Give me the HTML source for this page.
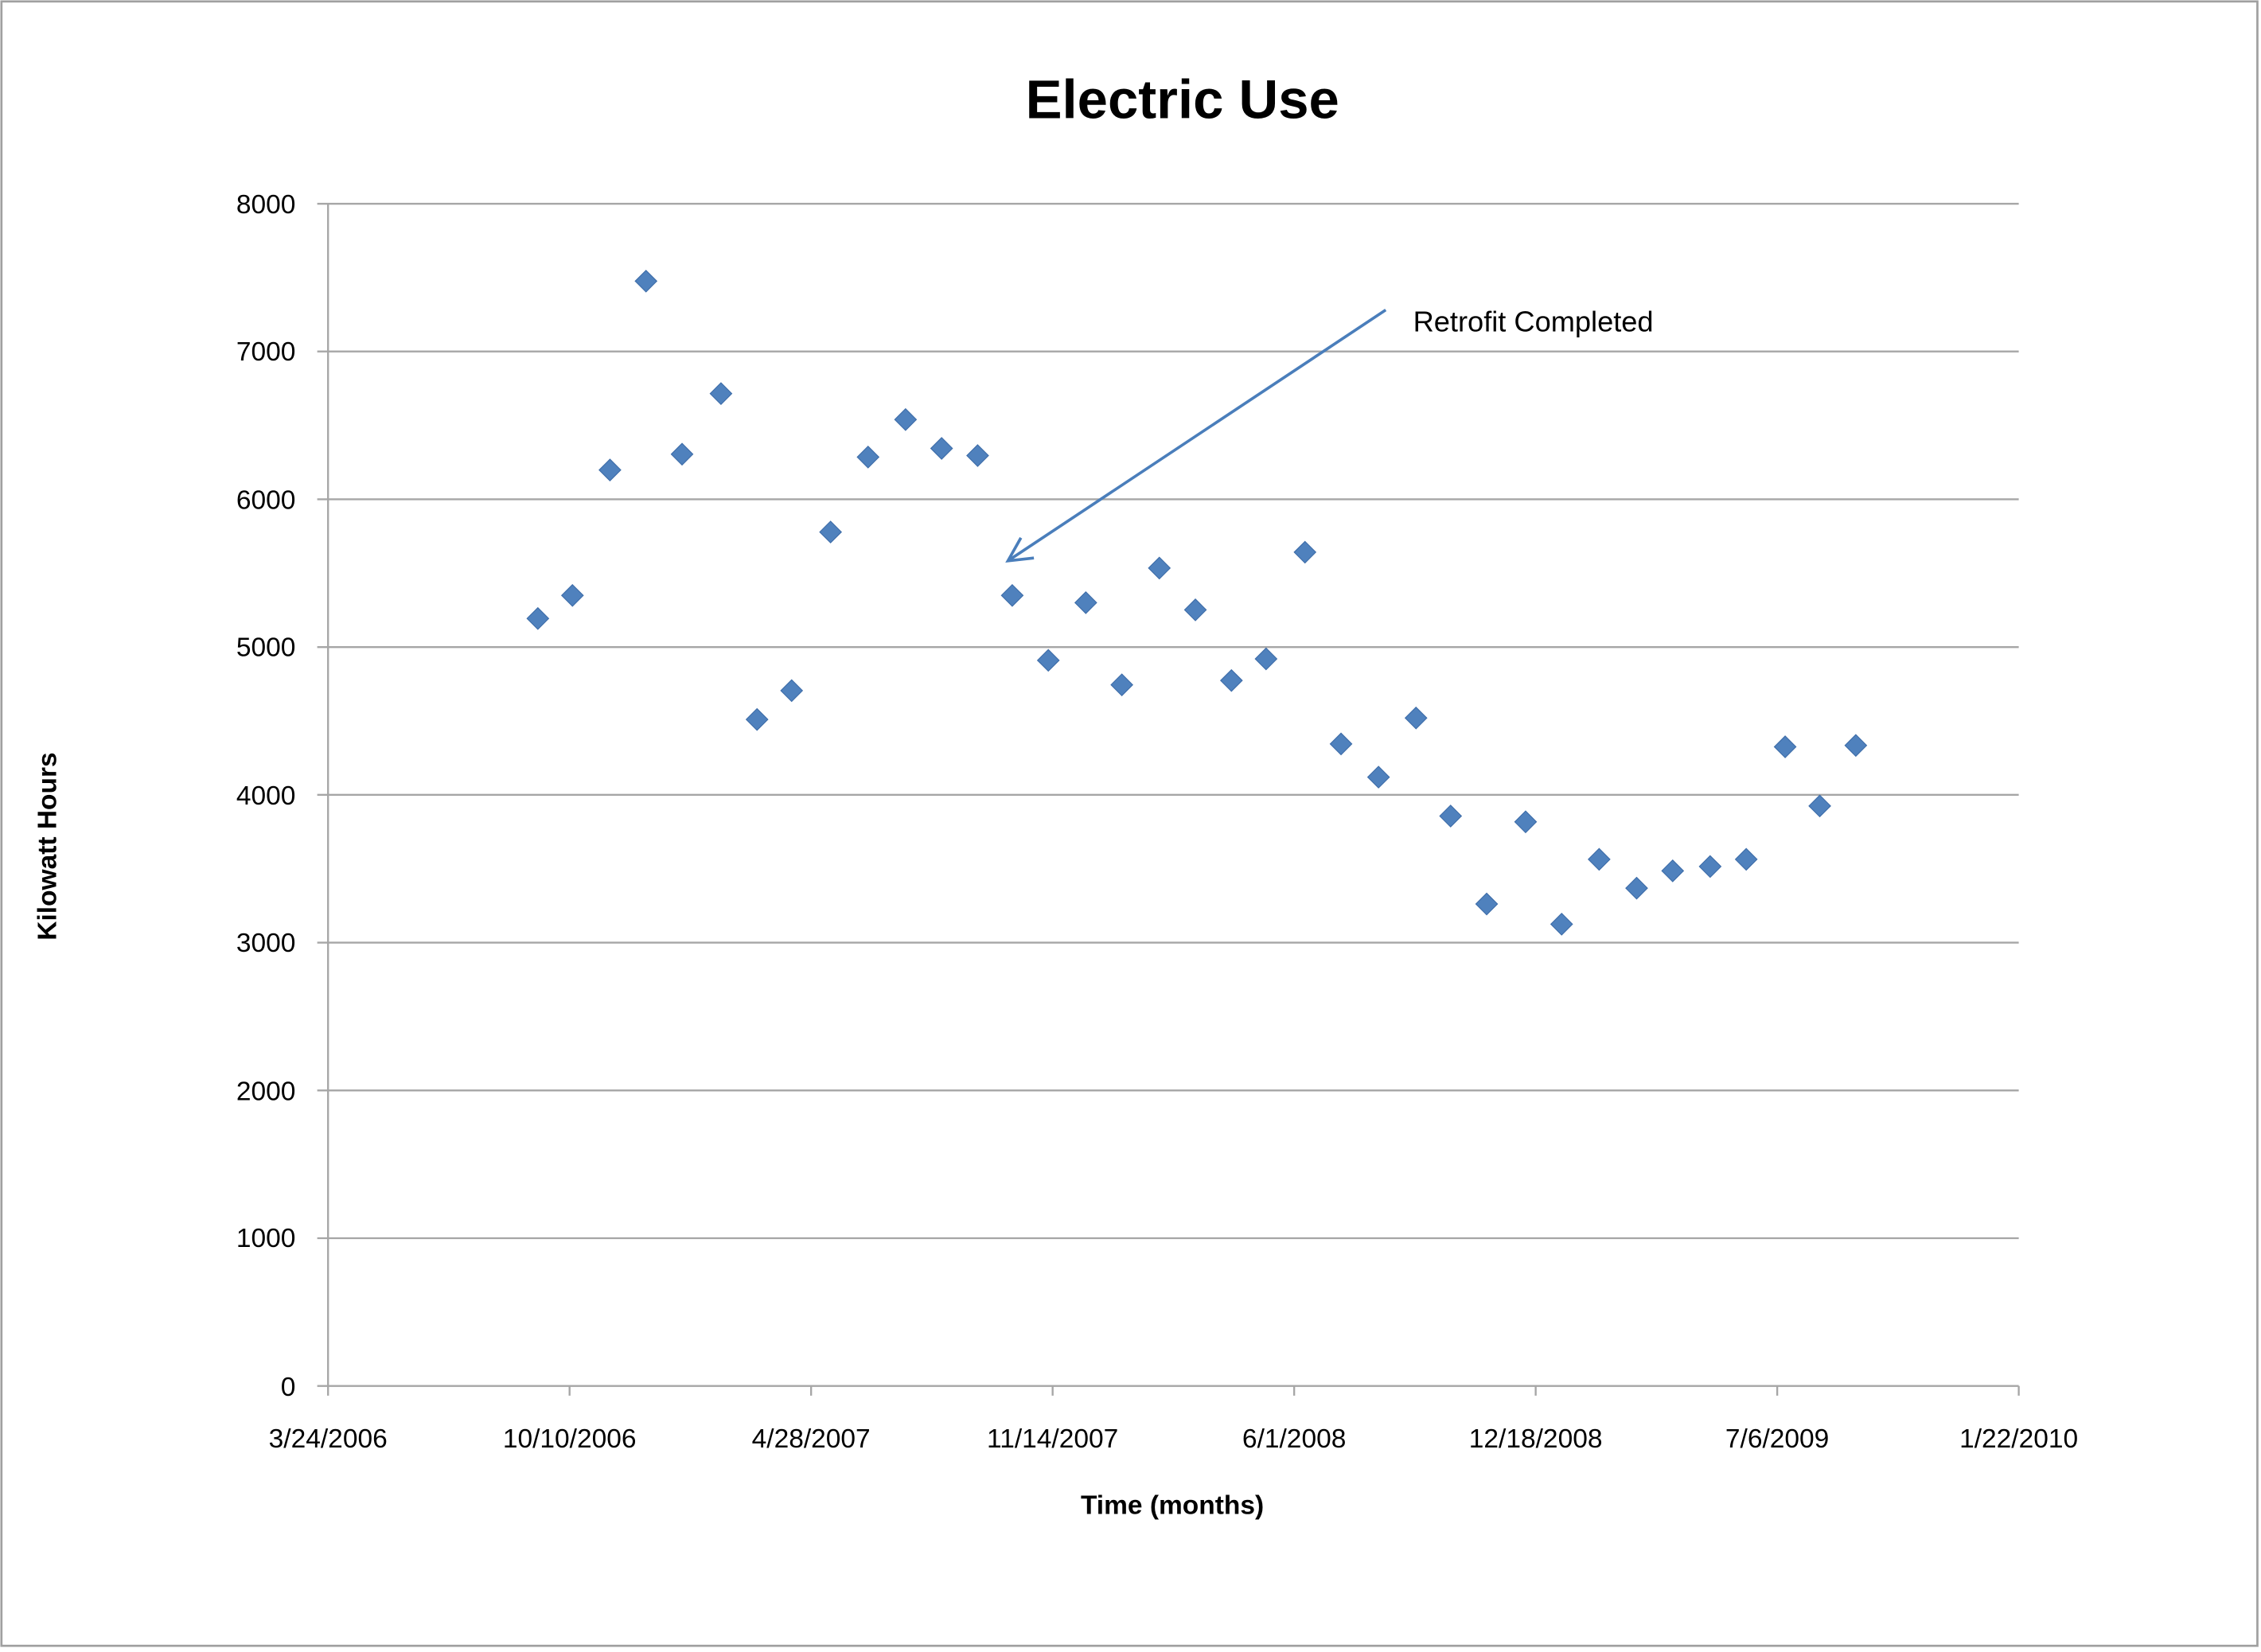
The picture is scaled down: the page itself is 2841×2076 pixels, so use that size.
<!DOCTYPE html>
<html><head><meta charset="utf-8"><style>html,body{margin:0;padding:0;background:#fff}svg{display:block}</style></head>
<body>
<svg width="2841" height="2076" viewBox="0 0 1568 1145.8" preserveAspectRatio="none" xmlns="http://www.w3.org/2000/svg" font-family="Liberation Sans, sans-serif">
<rect x="0" y="0" width="1568" height="1145.8" fill="#fff"/>
<rect x="1" y="1" width="1564.5" height="1140.5" fill="none" stroke="#a0a0a0" stroke-width="1.5"/>
<text x="820" y="82" font-size="38" font-weight="bold" text-anchor="middle">Electric Use</text>
<g stroke="#a6a6a6" stroke-width="1.3">
<line x1="220" y1="141.3" x2="1400" y2="141.3"/>
<line x1="220" y1="243.8" x2="1400" y2="243.8"/>
<line x1="220" y1="346.3" x2="1400" y2="346.3"/>
<line x1="220" y1="448.8" x2="1400" y2="448.8"/>
<line x1="220" y1="551.3" x2="1400" y2="551.3"/>
<line x1="220" y1="653.8" x2="1400" y2="653.8"/>
<line x1="220" y1="756.3" x2="1400" y2="756.3"/>
<line x1="220" y1="858.8" x2="1400" y2="858.8"/>
<line x1="220" y1="961.3" x2="1400" y2="961.3"/>
<line x1="227.5" y1="141.3" x2="227.5" y2="961.3"/>
<line x1="227.5" y1="961.3" x2="227.5" y2="968"/>
<line x1="395" y1="961.3" x2="395" y2="968"/>
<line x1="562.5" y1="961.3" x2="562.5" y2="968"/>
<line x1="730" y1="961.3" x2="730" y2="968"/>
<line x1="897.5" y1="961.3" x2="897.5" y2="968"/>
<line x1="1065" y1="961.3" x2="1065" y2="968"/>
<line x1="1232.5" y1="961.3" x2="1232.5" y2="968"/>
<line x1="1400" y1="961.3" x2="1400" y2="968"/>
</g>
<g font-size="18.5" text-anchor="end">
<text x="205" y="148">8000</text><text x="205" y="250">7000</text><text x="205" y="353">6000</text><text x="205" y="455">5000</text><text x="205" y="558">4000</text><text x="205" y="660">3000</text><text x="205" y="763">2000</text><text x="205" y="865">1000</text><text x="205" y="968">0</text>
</g>
<g font-size="18.5" text-anchor="middle">
<text x="227.5" y="1004">3/24/2006</text><text x="395" y="1004">10/10/2006</text><text x="562.5" y="1004">4/28/2007</text><text x="730" y="1004">11/14/2007</text><text x="897.5" y="1004">6/1/2008</text><text x="1065" y="1004">12/18/2008</text><text x="1232.5" y="1004">7/6/2009</text><text x="1400" y="1004">1/22/2010</text>
</g>
<text x="813" y="1050" font-size="18.5" font-weight="bold" text-anchor="middle">Time (months)</text>
<text transform="translate(39,587) rotate(-90)" font-size="18.5" font-weight="bold" text-anchor="middle">Kilowatt Hours</text>
<g fill="#4f81bd" stroke="#3a6aa5" stroke-width="0.6">
<script type="text/plain"></script>
</g>
<g fill="#4f81bd" stroke="#3d6ca8" stroke-width="0.6" id="pts">
<path d="M373 421.5l7.5 7.5l-7.5 7.5l-7.5-7.5z"/>
<path d="M397 405.5l7.5 7.5l-7.5 7.5l-7.5-7.5z"/>
<path d="M423 318.5l7.5 7.5l-7.5 7.5l-7.5-7.5z"/>
<path d="M448 187.5l7.5 7.5l-7.5 7.5l-7.5-7.5z"/>
<path d="M473 307.5l7.5 7.5l-7.5 7.5l-7.5-7.5z"/>
<path d="M500 265.5l7.5 7.5l-7.5 7.5l-7.5-7.5z"/>
<path d="M525 491.5l7.5 7.5l-7.5 7.5l-7.5-7.5z"/>
<path d="M549 471.5l7.5 7.5l-7.5 7.5l-7.5-7.5z"/>
<path d="M576 361.5l7.5 7.5l-7.5 7.5l-7.5-7.5z"/>
<path d="M602 309.5l7.5 7.5l-7.5 7.5l-7.5-7.5z"/>
<path d="M628 283.5l7.5 7.5l-7.5 7.5l-7.5-7.5z"/>
<path d="M653 303.5l7.5 7.5l-7.5 7.5l-7.5-7.5z"/>
<path d="M678 308.5l7.5 7.5l-7.5 7.5l-7.5-7.5z"/>
<path d="M702 405.5l7.5 7.5l-7.5 7.5l-7.5-7.5z"/>
<path d="M727 450.5l7.5 7.5l-7.5 7.5l-7.5-7.5z"/>
<path d="M753 410.5l7.5 7.5l-7.5 7.5l-7.5-7.5z"/>
<path d="M778 467.5l7.5 7.5l-7.5 7.5l-7.5-7.5z"/>
<path d="M804 386.5l7.5 7.5l-7.5 7.5l-7.5-7.5z"/>
<path d="M829 415.5l7.5 7.5l-7.5 7.5l-7.5-7.5z"/>
<path d="M854 464.5l7.5 7.5l-7.5 7.5l-7.5-7.5z"/>
<path d="M878 449.5l7.5 7.5l-7.5 7.5l-7.5-7.5z"/>
<path d="M905 375.5l7.5 7.5l-7.5 7.5l-7.5-7.5z"/>
<path d="M930 508.5l7.5 7.5l-7.5 7.5l-7.5-7.5z"/>
<path d="M956 531.5l7.5 7.5l-7.5 7.5l-7.5-7.5z"/>
<path d="M982 490.5l7.5 7.5l-7.5 7.5l-7.5-7.5z"/>
<path d="M1006 558.5l7.5 7.5l-7.5 7.5l-7.5-7.5z"/>
<path d="M1031 619.5l7.5 7.5l-7.5 7.5l-7.5-7.5z"/>
<path d="M1058 562.5l7.5 7.5l-7.5 7.5l-7.5-7.5z"/>
<path d="M1083 633.5l7.5 7.5l-7.5 7.5l-7.5-7.5z"/>
<path d="M1109 588.5l7.5 7.5l-7.5 7.5l-7.5-7.5z"/>
<path d="M1135 608.5l7.5 7.5l-7.5 7.5l-7.5-7.5z"/>
<path d="M1160 596.5l7.5 7.5l-7.5 7.5l-7.5-7.5z"/>
<path d="M1186 593.5l7.5 7.5l-7.5 7.5l-7.5-7.5z"/>
<path d="M1211 588.5l7.5 7.5l-7.5 7.5l-7.5-7.5z"/>
<path d="M1238 510.5l7.5 7.5l-7.5 7.5l-7.5-7.5z"/>
<path d="M1262 551.5l7.5 7.5l-7.5 7.5l-7.5-7.5z"/>
<path d="M1287 509.5l7.5 7.5l-7.5 7.5l-7.5-7.5z"/>
</g>
<g stroke="#4a7ebb" stroke-width="2" fill="none">
<line x1="961" y1="215" x2="699" y2="389"/>
<polyline points="708,373 699,389 717,387"/>
</g>
<text x="980" y="230" font-size="20">Retrofit Completed</text>
</svg>
</body></html>
